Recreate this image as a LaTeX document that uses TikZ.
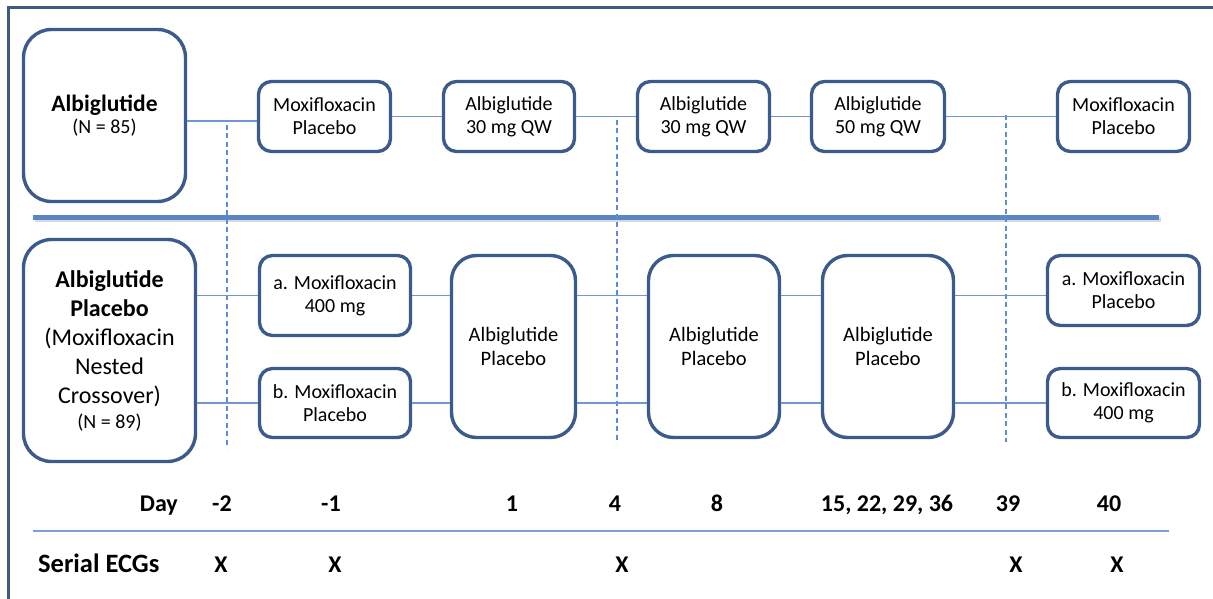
\documentclass[tikz,border=0pt]{standalone}
\usepackage{fontspec}
\setmainfont{Carlito}
\definecolor{boxc}{RGB}{59,91,140}
\definecolor{framec}{RGB}{62,91,136}
\definecolor{connc}{RGB}{112,150,208}
\definecolor{dashc}{RGB}{91,140,214}
\definecolor{sepc}{RGB}{90,134,197}
\definecolor{rulec}{RGB}{126,158,214}
\begin{document}
\begin{tikzpicture}[x=1pt,y=-1pt,
  box/.style={draw=boxc, line width=3.4pt, rounded corners=13pt, fill=white, align=center, inner sep=0pt,
    font=\fontsize{20}{23}\selectfont},
  bigbox/.style={box, rounded corners=28pt},
  tallbox/.style={box, rounded corners=25pt, font=\fontsize{20.5}{24}\selectfont},
  conn/.style={draw=connc, line width=1.3pt},
  dashline/.style={draw=dashc, line width=1.3pt, dash pattern=on 5pt off 3.5pt},
  daylab/.style={anchor=base, font=\fontsize{24}{28}\selectfont\bfseries, inner sep=0pt},
]
\useasboundingbox (0,0) rectangle (1213,599);
% outer frame (cropped)
\draw[framec, line width=3pt] (8,640) -- (8,8) -- (1260,8);

% separator with soft shadow
\draw[black!15, line width=5pt] (34.5,219) -- (1160.5,219);
\draw[sepc, line width=5pt] (33,217) -- (1159,217);

% dashed day markers
\coordinate (d1t) at (227,125); \coordinate (d1b) at (227,448);
\coordinate (d2t) at (617,120); \coordinate (d2b) at (617,443);
\coordinate (d3t) at (1006,115); \coordinate (d3b) at (1006,442);
\draw[dashline] (d1t) -- (d1b);
\draw[dashline] (d2t) -- (d2b);
\draw[dashline] (d3t) -- (d3b);

% top arm
\node[bigbox, minimum width=162pt, minimum height=172pt] (A) at (104.5,115.5)
  {{\fontsize{23.5}{26}\selectfont\bfseries Albiglutide}\\[-1pt](N = 85)};
\node[box, minimum width=132pt, minimum height=70pt] (M1) at (324.5,116.5) {Moxifloxacin\\Placebo};
\node[box, minimum width=131pt, minimum height=70pt] (T1) at (509,116.5) {Albiglutide\\30 mg QW};
\node[box, minimum width=132pt, minimum height=70pt] (T2) at (703.5,116.5) {Albiglutide\\30 mg QW};
\node[box, minimum width=133pt, minimum height=70pt] (T3) at (878,116.5) {Albiglutide\\50 mg QW};
\node[box, minimum width=132pt, minimum height=70pt] (M2) at (1123.5,116.5) {Moxifloxacin\\Placebo};

\coordinate (c0) at (150,121);
\draw[conn] (A.east |- c0) -- (M1.west |- c0);
\draw[conn] (M1.east) -- (T1.west);
\draw[conn] (T1.east) -- (T2.west);
\draw[conn] (T2.east) -- (T3.west);
\draw[conn] (T3.east) -- (M2.west);

% bottom arm
\node[bigbox, minimum width=172pt, minimum height=222pt, font=\fontsize{24}{29}\selectfont] (B) at (109.5,350.5)
  {\textbf{Albiglutide}\\\textbf{Placebo}\\(Moxifloxacin\\Nested\\Crossover)\\[-4pt]{\fontsize{20}{23}\selectfont(N = 89)}};
\node[box, minimum width=151pt, minimum height=80pt] (a1) at (335,295.5) {a. Moxifloxacin\\400 mg};
\node[box, minimum width=151pt, minimum height=69pt] (b1) at (335,403) {b. Moxifloxacin\\Placebo};
\node[tallbox, minimum width=124pt, minimum height=182pt] (P1) at (513.5,346.5) {Albiglutide\\Placebo};
\node[tallbox, minimum width=131pt, minimum height=182pt] (P2) at (714,346.5) {Albiglutide\\Placebo};
\node[tallbox, minimum width=131pt, minimum height=182pt] (P3) at (888,346.5) {Albiglutide\\Placebo};
\node[box, minimum width=152pt, minimum height=70pt] (a2) at (1123.5,290.5) {a. Moxifloxacin\\Placebo};
\node[box, minimum width=152pt, minimum height=69pt] (b2) at (1123.5,403) {b. Moxifloxacin\\400 mg};

\draw[conn] (B.east |- a1.west) -- (a1.west);
\draw[conn] (B.east |- b1.west) -- (b1.west);
\draw[conn] (a1.east) -- (P1.west |- a1.east);
\draw[conn] (b1.east) -- (P1.west |- b1.east);
\draw[conn] (P1.east |- a1.east) -- (P2.west |- a1.east);
\draw[conn] (P1.east |- b1.east) -- (P2.west |- b1.east);
\draw[conn] (P2.east |- a1.east) -- (P3.west |- a1.east);
\draw[conn] (P2.east |- b1.east) -- (P3.west |- b1.east);
\draw[conn] (P3.east |- a1.east) -- (a2.west |- a1.east);
\draw[conn] (P3.east |- b1.east) -- (b2.west);

% day row
\node[daylab, anchor=base east] (day) at (178,511) {Day};
\node[daylab] (dm2) at (222,511) {-2};
\node[daylab] (dm1) at (331,511) {-1};
\node[daylab] (d1) at (512,511) {1};
\node[daylab] (d4) at (615,511) {4};
\node[daylab] (d8) at (717,511) {8};
\node[daylab] (d15) at (887,511) {15, 22, 29, 36};
\node[daylab] (d39) at (1008,511) {39};
\node[daylab] (d40) at (1109,511) {40};

\coordinate (rl) at (33,531); \coordinate (rr) at (1169,531);
\draw[rulec, line width=2pt] (rl) -- (rr);

% serial ECGs row
\node[daylab, anchor=base west, font=\fontsize{26.5}{30}\selectfont\bfseries] (ecg) at (38,572) {Serial ECGs};
\node[daylab] (x1) at (221,572) {X};
\node[daylab] (x2) at (335,572) {X};
\node[daylab] (x3) at (622,572) {X};
\node[daylab] (x4) at (1016,572) {X};
\node[daylab] (x5) at (1117,572) {X};
\end{tikzpicture}
\end{document}
